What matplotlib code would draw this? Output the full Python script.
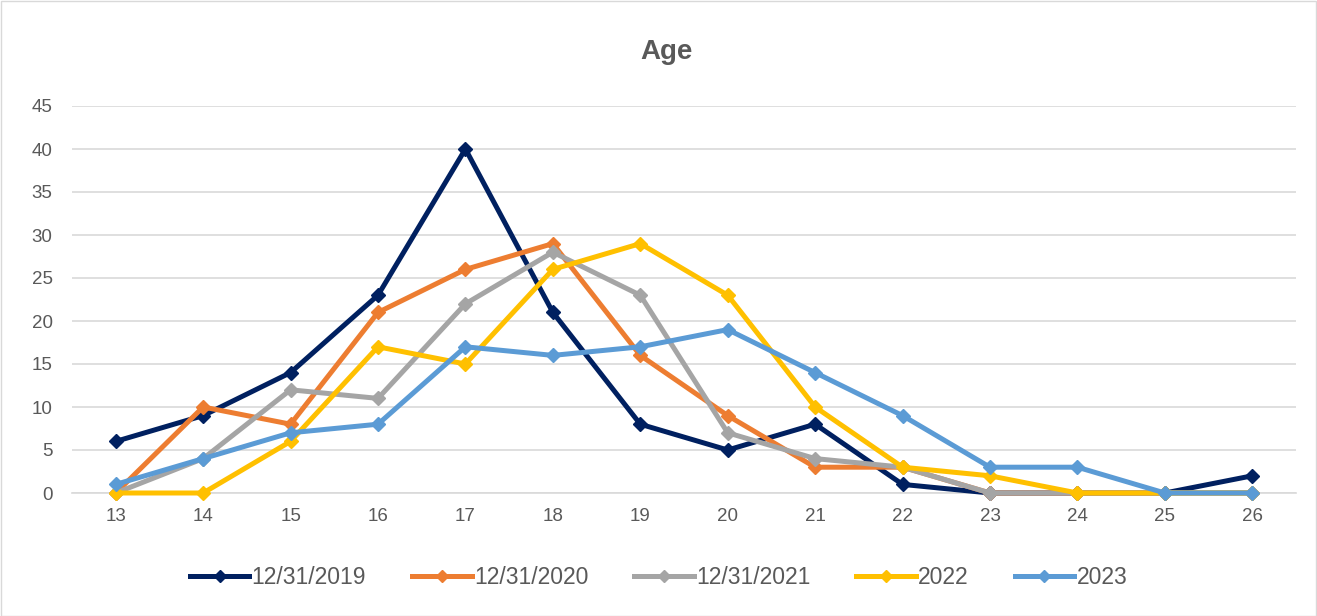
import matplotlib
matplotlib.use("Agg")
import matplotlib.pyplot as plt
from matplotlib.patches import Rectangle

# Chart data
ages = [13, 14, 15, 16, 17, 18, 19, 20, 21, 22, 23, 24, 25, 26]
y2019 = [6, 9, 14, 23, 40, 21, 8, 5, 8, 1, 0, 0, 0, 2]
y2020 = [0, 10, 8, 21, 26, 29, 16, 9, 3, 3, 0, 0, 0, 0]
y2021 = [0, 4, 12, 11, 22, 28, 23, 7, 4, 3, 0, 0, 0, 0]
y2022 = [0, 0, 6, 17, 15, 26, 29, 23, 10, 3, 2, 0, 0, 0]
y2023 = [1, 4, 7, 8, 17, 16, 17, 19, 14, 9, 3, 3, 0, 0]
series_labels = ['12/31/2019', '12/31/2020', '12/31/2021', '2022', '2023']
y_ticks = [0, 5, 10, 15, 20, 25, 30, 35, 40, 45]

COLORS = ['#002060', '#ED7D31', '#A5A5A5', '#FFC000', '#5B9BD5']
TEXT = '#595959'

plt.rcParams['font.family'] = ['Liberation Sans', 'DejaVu Sans']

W, H = 1317, 616
fig = plt.figure(figsize=(W / 100, H / 100), dpi=100, facecolor='white')

# Outer chart border
fig.patches.append(Rectangle((0.5 / W, 0.5 / H), 1 - 1.5 / W, 1 - 1.5 / H,
                             transform=fig.transFigure, fill=False,
                             edgecolor='#D9D9D9', linewidth=1))

left, right = 72 / W, 1296 / W
bottom, top = 1 - 493 / H, 1 - 106 / H
ax = fig.add_axes([left, bottom, right - left, top - bottom])

for vals, col, lab in zip([y2019, y2020, y2021, y2022, y2023], COLORS, series_labels):
    ax.plot(ages, vals, color=col, linewidth=3.6, marker='D', markersize=7.5,
            label=lab, solid_joinstyle='round', clip_on=False, zorder=3)

ax.set_xlim(12.5, 26.5)
ax.set_ylim(0, 45)
ax.set_xticks(ages)
ax.set_yticks(y_ticks)
ax.grid(axis='y', color='#D9D9D9', linewidth=1.2)
ax.set_axisbelow(True)
for s in ['top', 'right', 'left']:
    ax.spines[s].set_visible(False)
ax.spines['bottom'].set_color('#D9D9D9')
ax.spines['bottom'].set_linewidth(1.2)
ax.tick_params(length=0, labelsize=13.5, colors=TEXT)
ax.tick_params(axis='x', pad=11)
ax.tick_params(axis='y', pad=14)

fig.text(666 / W, 1 - 52 / H, 'Age', ha='center', va='center',
         fontsize=20, fontweight='bold', color=TEXT)

fig.legend(loc='center', bbox_to_anchor=(0.5, 1 - 578 / H), ncol=5,
           frameon=False, fontsize=16.5, labelcolor=TEXT,
           handlelength=2.6, handletextpad=0.1, columnspacing=2.0,
           markerscale=0.8)

fig.savefig('out.png', dpi=100, facecolor='white')
